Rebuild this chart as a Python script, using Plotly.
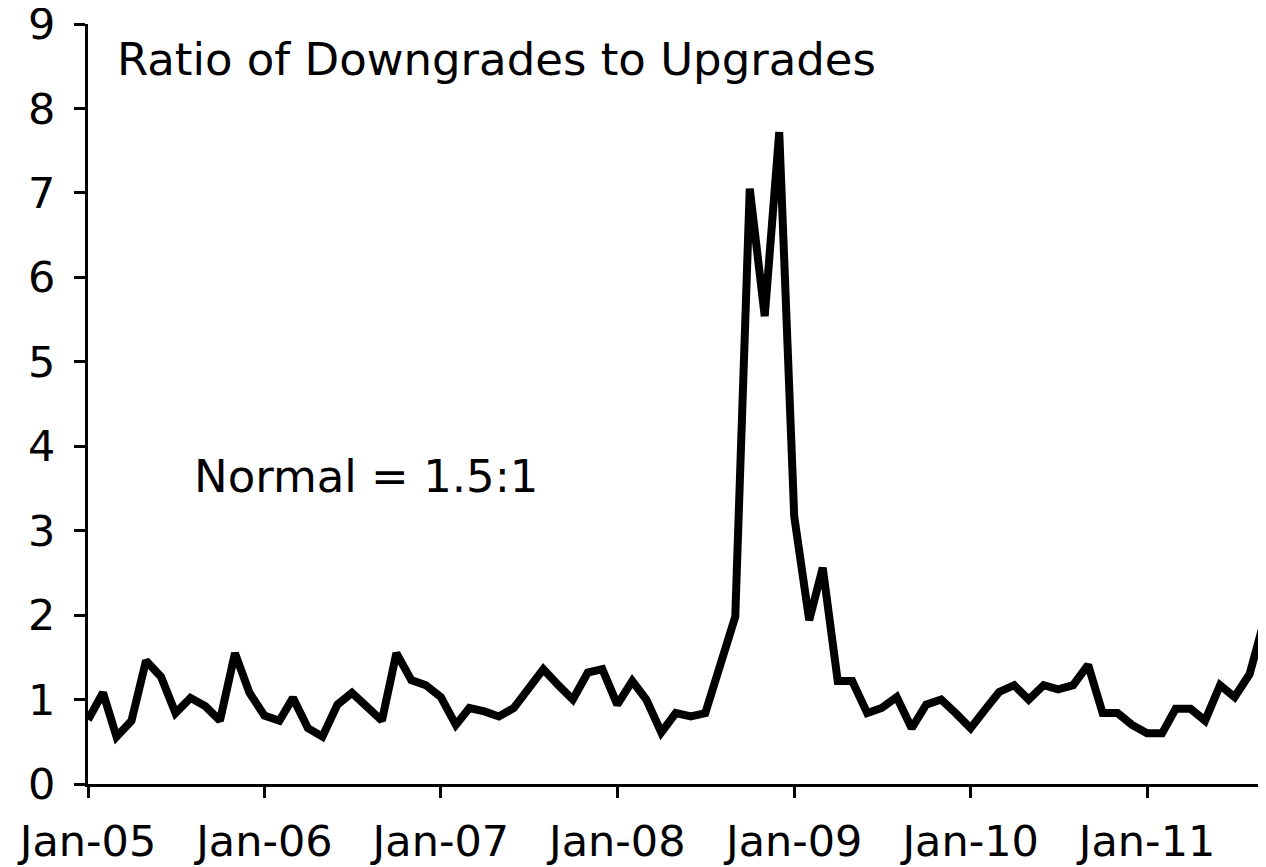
import pandas as pd
import plotly.graph_objects as go

# Monthly ratio of downgrades to upgrades, Jan-05 .. Sep-11
months = pd.date_range("2005-01-01", "2011-09-01", freq="MS")
ratio = [
    0.76, 1.08, 0.56, 0.75, 1.46, 1.27, 0.84, 1.02, 0.92, 0.75, 1.55, 1.08,  # 2005
    0.81, 0.75, 1.02, 0.66, 0.56, 0.94, 1.08, 0.90, 0.75, 1.55, 1.23, 1.17,  # 2006
    1.03, 0.70, 0.90, 0.86, 0.80, 0.90, 1.14, 1.36, 1.17, 1.00, 1.32, 1.36,  # 2007
    0.94, 1.22, 1.00, 0.61, 0.84, 0.80, 0.84, 1.40, 1.98, 7.05, 5.54, 7.72,  # 2008
    3.17, 1.94, 2.56, 1.22, 1.22, 0.84, 0.90, 1.03, 0.66, 0.94, 1.00, 0.84,  # 2009
    0.66, 0.89, 1.09, 1.17, 1.00, 1.17, 1.12, 1.17, 1.41, 0.84, 0.84, 0.70,  # 2010
    0.60, 0.60, 0.89, 0.89, 0.75, 1.17, 1.03, 1.30, 1.95,  # 2011
]
y_ticks = list(range(0, 10))
title_text = "Ratio of Downgrades to Upgrades"
note_text = "Normal = 1.5:1"

font = "DejaVu Sans"

fig = go.Figure()
fig.add_trace(
    go.Scatter(
        x=months,
        y=ratio,
        mode="lines",
        line=dict(color="black", width=8),
        showlegend=False,
    )
)

# the page body adds an 8px offset, so the figure is 8px smaller than the window
fig.update_layout(
    width=1258,
    height=859,
    margin=dict(l=80, r=0, t=16, b=83),
    paper_bgcolor="white",
    plot_bgcolor="white",
    font=dict(family=font, color="black", size=43),
    xaxis=dict(
        type="date",
        range=["2005-01-01", "2011-09-04"],
        tickformat="%b-%y",
        dtick="M12",
        tick0="2005-01-01",
        ticks="outside",
        ticklen=11,
        tickwidth=3,
        tickcolor="black",
        showline=True,
        linecolor="black",
        linewidth=3,
        showgrid=False,
        zeroline=False,
        tickfont=dict(family=font, size=43, color="black"),
        ticklabelstandoff=6,
        ticklabeloverflow="allow",
        automargin=False,
    ),
    yaxis=dict(
        range=[0, 9],
        tickvals=y_ticks,
        ticks="outside",
        ticklen=11,
        tickwidth=3,
        tickcolor="black",
        showline=True,
        linecolor="black",
        linewidth=3,
        showgrid=False,
        zeroline=False,
        tickfont=dict(family=font, size=43, color="black"),
        ticklabelstandoff=10,
        ticklabeloverflow="allow",
        automargin=False,
    ),
    annotations=[
        dict(
            text=title_text,
            xref="paper", yref="paper",
            x=0.0229, y=0.953,
            xanchor="left", yanchor="middle",
            showarrow=False,
            font=dict(family=font, size=45, color="black"),
        ),
        dict(
            text=note_text,
            xref="paper", yref="paper",
            x=0.088, y=0.404,
            xanchor="left", yanchor="middle",
            showarrow=False,
            font=dict(family=font, size=45, color="black"),
        ),
    ],
)

fig.write_html("out.html")
